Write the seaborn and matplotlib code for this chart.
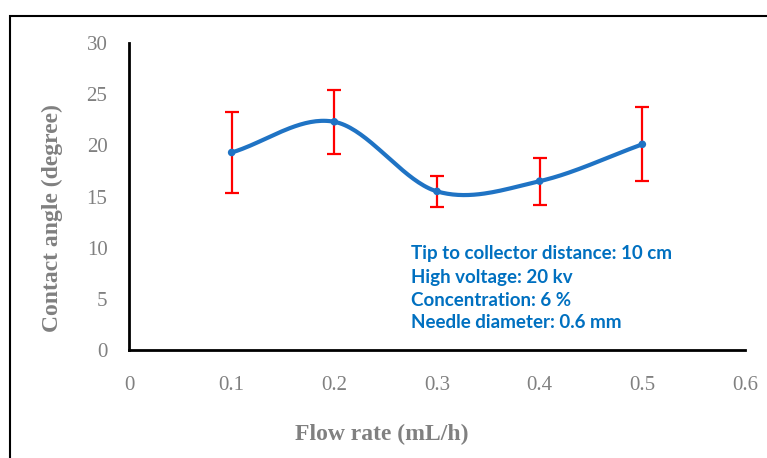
import numpy as np
import pandas as pd
import matplotlib
matplotlib.use("Agg")
import matplotlib.pyplot as plt
import seaborn as sns
from matplotlib.patches import Rectangle

flow_rate = [0.1, 0.2, 0.3, 0.4, 0.5]
contact_angle = [19.3, 22.3, 15.5, 16.5, 20.1]
error = [4.0, 3.1, 1.5, 2.3, 3.6]
x_ticks = [0, 0.1, 0.2, 0.3, 0.4, 0.5, 0.6]
y_ticks = [0, 5, 10, 15, 20, 25, 30]
notes = ["Tip to collector distance: 10 cm", "High voltage: 20 kv",
         "Concentration: 6 %", "Needle diameter: 0.6 mm"]

sns.set_theme(style="white")
plt.rcParams['font.family'] = ['Liberation Serif', 'DejaVu Serif']

df = pd.DataFrame({"x": flow_rate, "y": contact_angle, "e": error})

def catmull_rom(xs, ys, n=40, tension=0.5):
    xs = np.asarray(xs, float); ys = np.asarray(ys, float)
    px = np.concatenate([[2*xs[0]-xs[1]], xs, [2*xs[-1]-xs[-2]]])
    py = np.concatenate([[2*ys[0]-ys[1]], ys, [2*ys[-1]-ys[-2]]])
    out_x, out_y = [], []
    for i in range(1, len(px)-2):
        p0, p1, p2, p3 = [np.array([px[j], py[j]]) for j in (i-1, i, i+1, i+2)]
        m1 = tension*(p2-p0); m2 = tension*(p3-p1)
        t = np.linspace(0, 1, n)[:, None]
        h00 = 2*t**3-3*t**2+1; h10 = t**3-2*t**2+t
        h01 = -2*t**3+3*t**2; h11 = t**3-t**2
        pts = h00*p1 + h10*m1 + h01*p2 + h11*m2
        out_x.extend(pts[:, 0]); out_y.extend(pts[:, 1])
    return np.array(out_x), np.array(out_y)

fig = plt.figure(figsize=(7.67, 4.58), dpi=100)
ax = fig.add_axes([0.1682, 0.2358, 0.8031, 0.6703])

ax.errorbar(df["x"], df["y"], yerr=df["e"], fmt="none", ecolor="#FF0000",
            elinewidth=1.6, capsize=5, capthick=1.6, zorder=2)
sx, sy = catmull_rom(flow_rate, contact_angle)
ax.plot(sx, sy, color="#1F73C4", lw=3, zorder=3, solid_capstyle="round")
sns.scatterplot(data=df, x="x", y="y", ax=ax, color="#1F73C4", s=30,
                edgecolor="none", zorder=4, legend=False)

ax.set_xlim(0, 0.6)
ax.set_ylim(0, 30)
ax.set_xticks(x_ticks)
ax.set_xticklabels([f"{v:g}" for v in x_ticks])
ax.set_yticks(y_ticks)
ax.set_yticklabels([str(v) for v in y_ticks])
ax.tick_params(axis="both", length=0, labelsize=15, labelcolor="#808080")
ax.tick_params(axis="x", pad=19)
ax.tick_params(axis="y", pad=15.5)
for s in ["top", "right"]:
    ax.spines[s].set_visible(False)
for s in ["left", "bottom"]:
    ax.spines[s].set_color("black")
    ax.spines[s].set_linewidth(2)

ax.set_xlabel("Flow rate (mL/h)", fontsize=17, fontweight="bold", color="#808080")
ax.set_ylabel("Contact angle (degree)", fontsize=17, fontweight="bold", color="#808080")
ax.xaxis.label.set_verticalalignment("center")
ax.yaxis.label.set_verticalalignment("center")
ax.xaxis.set_label_coords((382-129)/(745-129), -(434-350)/307)
ax.yaxis.set_label_coords(-(129-52)/616, (350-218)/307)

for i, t in enumerate(notes):
    fig.text(411/767, 1-(254+23*i)/458, t, fontsize=13.5, fontweight="bold",
             color="#0070C0", family=["Lato", "DejaVu Sans"], va="center", ha="left")

fig.patches.append(Rectangle((9.5/767, -0.1), 1.1, 1.1-15.5/458, transform=fig.transFigure,
                             fill=False, edgecolor="black", lw=1.5))

fig.savefig("out.png", dpi=100)
